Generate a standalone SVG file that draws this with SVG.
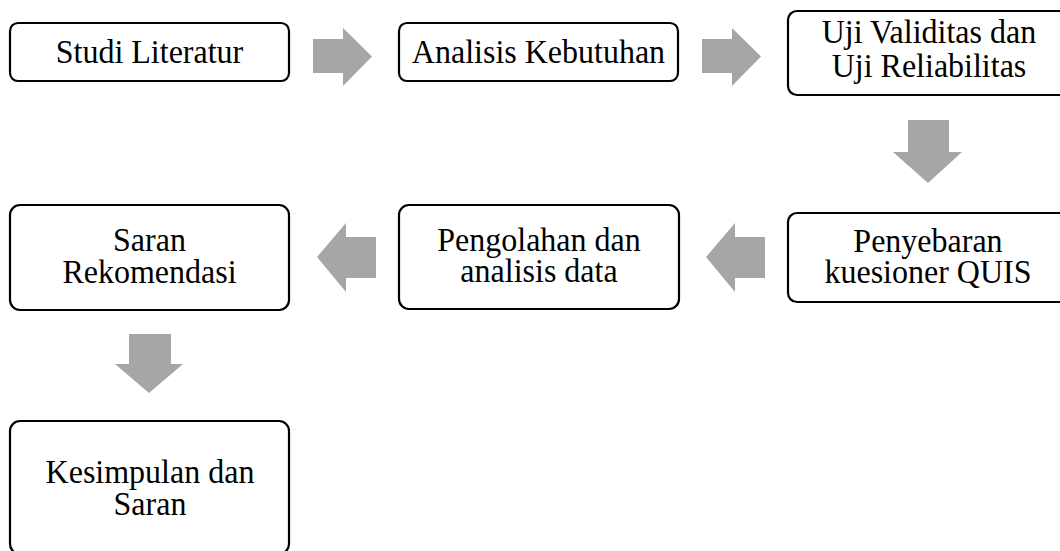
<svg xmlns="http://www.w3.org/2000/svg" width="1060" height="551" viewBox="0 0 1060 551">
<style>
.box{fill:#fff;stroke:#000;stroke-width:2.2}
.t{font-family:"Liberation Serif","Times New Roman",serif;font-size:32px;fill:#000;text-anchor:middle}
.arr{fill:#a6a6a6}
</style>
<rect width="1060" height="551" fill="#fff"/>
<g id="connectors">
<polygon class="arr" points="313,39 343,39 343,28 372,56.5 343,86 343,73 313,73"/>
<polygon class="arr" points="702,39 732,39 732,28 761,56.5 732,86 732,73 702,73"/>
<polygon class="arr" points="908,120 949,120 949,152 962,152 928,183 893,152 908,152"/>
<polygon class="arr" points="765,237 735,237 735,223 706,257 735,292 735,278 765,278"/>
<polygon class="arr" points="376,237 346,237 346,223 317,257 346,292 346,278 376,278"/>
<polygon class="arr" points="129,334 171,334 171,364 183,364 149,393 115,364 129,364"/>
</g>
<g id="n1"><rect class="box" x="10" y="23" width="279" height="58" rx="8"/><text class="t" x="149.5" y="62" transform="matrix(1,0,0,1.06,0,-3.1)">Studi Literatur</text></g>
<g id="n2"><rect class="box" x="399" y="23" width="279" height="58" rx="8"/><text class="t" x="538.5" y="62" transform="matrix(1,0,0,1.06,0,-3.1)">Analisis Kebutuhan</text></g>
<g id="n3"><rect class="box" x="788" y="11" width="282" height="84" rx="9"/><text class="t" y="44" transform="matrix(1,0,0,1.06,0,-3.2)"><tspan x="929">Uji Validitas dan</tspan><tspan x="929" dy="31.5">Uji Reliabilitas</tspan></text></g>
<g id="n4"><rect class="box" x="788" y="213" width="282" height="89" rx="9"/><text class="t" y="252" transform="matrix(1,0,0,1.06,0,-15.2)"><tspan x="928">Penyebaran</tspan><tspan x="928" dy="29.5">kuesioner QUIS</tspan></text></g>
<g id="n5"><rect class="box" x="399" y="205" width="280" height="104" rx="10"/><text class="t" y="251" transform="matrix(1,0,0,1.06,0,-15.1)"><tspan x="539">Pengolahan dan</tspan><tspan x="539" dy="29.5">analisis data</tspan></text></g>
<g id="n6"><rect class="box" x="10" y="205" width="279" height="105" rx="10"/><text class="t" y="251" transform="matrix(1,0,0,1.06,0,-15.1)"><tspan x="149.5">Saran</tspan><tspan x="149.5" dy="30">Rekomendasi</tspan></text></g>
<g id="n7"><rect class="box" x="10" y="421" width="279" height="133" rx="10"/><text class="t" y="483" transform="matrix(1,0,0,1.06,0,-29)"><tspan x="150">Kesimpulan dan</tspan><tspan x="150" dy="30">Saran</tspan></text></g>
</svg>
